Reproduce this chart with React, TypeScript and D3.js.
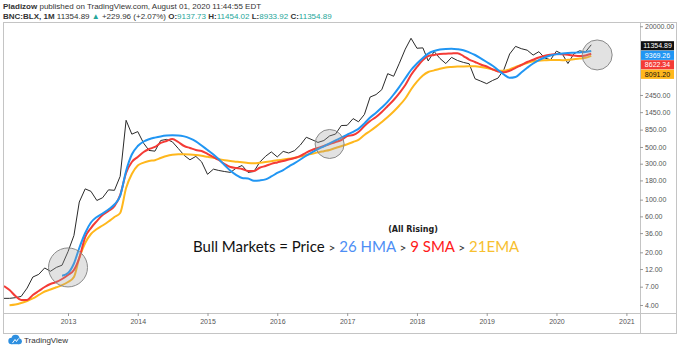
import React, { useEffect, useRef } from "react";
import * as d3 from "d3";

// monthly closes, BNC:BLX, starting Jan 2012
const START = new Date(2012, 0, 1);
const price = [
  5.5, 4.9, 4.9, 5.0, 5.2, 6.7, 9.4, 10.2, 12.4, 11.2, 12.6, 13.5,
  20.4, 33.4, 93, 139, 129, 97.5, 106, 135, 133, 204, 1130, 740,
  800, 560, 450, 440, 610, 630, 586, 478, 387, 338, 375, 318,
  217, 254, 244, 236, 230, 263, 284, 230, 236, 314, 377, 430,
  369, 437, 416, 448, 531, 673, 624, 575, 609, 701, 742, 963,
  970, 1190, 1080, 1350, 2300, 2480, 2880, 4700, 4340, 6470, 9950, 13860,
  10220, 10330, 6930, 9240, 7490, 6400, 7730, 7030, 6630, 6370, 4020, 3740,
  3460, 3820, 4100, 5320, 8570, 10820, 10090, 9630, 8290, 9200, 7570, 7190,
  9350, 8540, 6410, 8620, 9450, 9140, 11354.89,
];

// 9 SMA, from Feb 2012
const smaStart = 1;
const sma9 = [
  7.15, 6.32, 5.26, 4.66, 4.66, 5.43, 6.13, 6.93, 7.6, 8.07, 8.85, 10.0,
  11.65, 16.8, 31.9, 42, 52, 62.6, 70.7, 82, 115, 226, 316, 368,
  429, 470, 500, 565, 600, 638, 582, 515, 485, 456, 442, 404,
  368, 336, 297, 271, 263, 255, 240, 240, 265, 280, 298, 312,
  326, 341, 357, 380, 422, 456, 485, 515, 548, 582, 619, 700,
  721, 790, 949, 1106, 1250, 1456, 1750, 2100, 2600, 3320, 4510, 5760,
  7130, 8060, 8310, 8570, 8640, 8720, 8790, 8060, 7240, 6710, 6220, 5850,
  5370, 5020, 4900, 5140, 5620, 6120, 6710, 7200, 7700, 8140, 8390, 8570,
  8490, 8370, 8190, 8060, 8190, 8622.34,
];

// 21 EMA, from Mar 2012
const emaStart = 2;
const ema21 = [
  3.97, 4.06, 4.25, 4.52, 4.89, 5.43, 6.04, 6.42, 6.87, 7.32, 8.07, 9.41,
  16.8, 26.6, 35.0, 40.8, 45.4, 51.3, 58.9, 66.5,
  143, 219, 284, 310, 326, 334, 357, 380, 394, 400, 400, 397,
  391, 382, 370, 359, 346, 333, 325, 319, 313, 306, 304, 309,
  316, 324, 333, 340, 348, 360, 374, 391, 406, 424, 440, 456,
  485, 512, 543, 582, 623, 721, 815, 932, 1073, 1250, 1478, 1776,
  2199, 2895, 3675, 4441, 4943, 5191, 5452, 5672, 5760, 5831, 5867, 5880,
  5880, 5760, 5586, 5352, 5128, 5128, 5352, 5760, 6123, 6508, 6855, 6982,
  7068, 7134, 7134, 7100, 7177, 7310, 7445, 7630, 8091.2,
];

// 26 HMA, from Dec 2012
const hmaStart = 11;
const hma26 = [
  9.79, 10.6, 14.2, 22.8, 36.1, 49.7, 58.9, 65.5, 74.0, 86.2, 112, 240,
  397, 515, 591, 634, 666, 691, 708, 714, 712, 691, 650, 595,
  523, 456, 398, 343, 286, 242, 212, 194, 191, 178, 180, 186,
  203, 226, 247, 275, 306, 341, 384, 425, 467, 511, 558, 610,
  666, 728, 795, 871, 1025, 1231, 1421, 1671, 1995, 2486, 3145, 4078,
  5255, 6410, 7583, 8676, 9391, 9802, 10012, 10074, 9921, 9623, 9024, 8309,
  7514, 6709, 5975, 5255, 4578, 4140, 4243, 4869, 5620, 6410, 7090, 7700,
  8185, 8490, 8700, 8836, 8916, 8998, 9109, 9369.26,
];

const priceTicks = [4, 7, 12, 20, 36, 60, 100, 180, 300, 500, 850, 1450, 2450, 20000];
const yearTicks = [2013, 2014, 2015, 2016, 2017, 2018, 2019, 2020, 2021];

// highlighted spots (month index, price, radius in px)
const circles = [
  { month: 12, value: 12.6, r: 19.5 },
  { month: 57, value: 548, r: 14.5 },
  { month: 103, value: 8320, r: 15 },
];

const BLUE = "#2196f3", RED = "#f43b36", ORANGE = "#ffb71c";
const FONT = "'Liberation Sans', Arial, sans-serif";

const monthDate = (i) => d3.timeMonth.offset(START, i);
const toPts = (vals, start) => vals.map((v, i) => ({ d: monthDate(start + i), v }));

const App = () => {
  const svgRef = useRef();

  useEffect(() => {
    document.body.style.margin = "0";
    const width = 680, height = 350;
    const plot = { left: 4, top: 22, right: 640, bottom: 313 };
    const svg = d3.select(svgRef.current)
      .attr("width", width)
      .attr("height", height)
      .style("display", "block")
      .style("background", "#fff");
    svg.selectAll("*").remove();

    const x = d3.scaleTime()
      .domain([new Date(2013, 0, 1), new Date(2021, 0, 1)])
      .range([68, 626.4]);
    const y = d3.scaleLog().domain([10, 10000]).range([275, 48.95]);

    // header
    const head = svg.append("g").style("font-family", FONT)
      .style("font-size", "8px").attr("fill", "#333");
    const h1 = head.append("text").attr("x", 3).attr("y", 9);
    h1.append("tspan").attr("font-weight", "bold").text("Pladizow");
    h1.append("tspan").text(" published on TradingView.com, August 01, 2020 11:44:55 EDT");
    const h2 = head.append("text").attr("x", 3).attr("y", 19);
    const teal = "#26a69a";
    [
      ["BNC:BLX, 1M", "bold", "#333"], ["  11354.89 ", null, "#333"], ["▲", null, teal],
      [" +229.96 (+2.07%) ", null, "#333"],
      ["O:", "bold", "#333"], ["9137.73", null, teal],
      [" H:", "bold", "#333"], ["11454.02", null, teal],
      [" L:", "bold", "#333"], ["8933.92", null, teal],
      [" C:", "bold", "#333"], ["11354.89", null, teal],
    ].forEach(([t, w, c]) => {
      h2.append("tspan").attr("font-weight", w || "normal").attr("fill", c).text(t);
    });

    // frame
    svg.append("rect")
      .attr("x", 3.5).attr("y", 22.5).attr("width", 673).attr("height", 311)
      .attr("fill", "none").attr("stroke", "#c4c4c4");
    svg.append("line").attr("x1", plot.right + 0.5).attr("x2", plot.right + 0.5)
      .attr("y1", 22.5).attr("y2", 333.5).attr("stroke", "#c4c4c4");
    svg.append("line").attr("x1", 3.5).attr("x2", 676.5)
      .attr("y1", plot.bottom + 0.5).attr("y2", plot.bottom + 0.5).attr("stroke", "#c4c4c4");

    svg.append("clipPath").attr("id", "plotClip")
      .append("rect")
      .attr("x", plot.left).attr("y", plot.top)
      .attr("width", plot.right - plot.left).attr("height", plot.bottom - plot.top);

    const g = svg.append("g").attr("clip-path", "url(#plotClip)");

    const line = d3.line().x(p => x(p.d)).y(p => y(p.v));
    const smooth = d3.line().x(p => x(p.d)).y(p => y(p.v)).curve(d3.curveMonotoneX);

    g.append("path").datum(toPts(price, 0))
      .attr("d", line).attr("fill", "none").attr("stroke", "#2a2a2a").attr("stroke-width", 1);
    g.append("path").datum(toPts(ema21, emaStart))
      .attr("d", smooth).attr("fill", "none").attr("stroke", ORANGE).attr("stroke-width", 2);
    g.append("path").datum(toPts(sma9, smaStart))
      .attr("d", smooth).attr("fill", "none").attr("stroke", RED).attr("stroke-width", 2);
    g.append("path").datum(toPts(hma26, hmaStart))
      .attr("d", smooth).attr("fill", "none").attr("stroke", BLUE).attr("stroke-width", 2);

    g.selectAll("circle.mark").data(circles).enter().append("circle")
      .attr("class", "mark")
      .attr("cx", c => x(monthDate(c.month)))
      .attr("cy", c => y(c.value))
      .attr("r", c => c.r)
      .attr("fill", "#9e9e9e").attr("fill-opacity", 0.3)
      .attr("stroke", "#8a8a8a").attr("stroke-width", 1);

    // price axis
    const yAxis = svg.append("g")
      .attr("transform", `translate(${plot.right},0)`)
      .call(d3.axisRight(y).tickValues(priceTicks).tickFormat(d3.format(".2f")).tickSize(3).tickPadding(2));
    yAxis.select(".domain").remove();
    yAxis.selectAll("line").attr("stroke", "#999");
    yAxis.selectAll("text").attr("fill", "#555")
      .style("font-size", "7px").style("font-family", FONT);

    // time axis
    const xAxis = svg.append("g")
      .attr("transform", `translate(0,${plot.bottom})`)
      .call(d3.axisBottom(x).tickValues(yearTicks.map(yr => new Date(yr, 0, 1)))
        .tickFormat(d3.timeFormat("%Y")).tickSize(3).tickPadding(3));
    xAxis.select(".domain").remove();
    xAxis.selectAll("line").attr("stroke", "#999");
    xAxis.selectAll("text").attr("fill", "#555")
      .style("font-size", "7px").style("font-family", FONT);

    // last value labels, stacked so they do not overlap
    const labels = [
      { v: price[price.length - 1], bg: "#111", fg: "#fff" },
      { v: hma26[hma26.length - 1], bg: BLUE, fg: "#fff" },
      { v: sma9[sma9.length - 1], bg: RED, fg: "#fff" },
      { v: ema21[ema21.length - 1], bg: ORANGE, fg: "#111" },
    ].sort((a, b) => y(a.v) - y(b.v));
    let prev = -Infinity;
    labels.forEach(l => {
      l.cy = Math.max(y(l.v) + 1, prev + 9.5);
      prev = l.cy;
    });
    const lab = svg.append("g").selectAll("g").data(labels).enter().append("g")
      .attr("transform", l => `translate(${plot.right + 1},${l.cy})`);
    lab.append("rect").attr("x", 0).attr("y", -4.6).attr("width", 33).attr("height", 9.2)
      .attr("fill", l => l.bg);
    lab.append("text").attr("x", 16.5).attr("y", 2.5).attr("text-anchor", "middle")
      .attr("fill", l => l.fg).style("font-size", "7px")
      .style("font-family", FONT)
      .text(l => d3.format(".2f")(l.v));

    // annotation
    svg.append("text")
      .attr("x", 413).attr("y", 232).attr("text-anchor", "middle")
      .style("font-family", "'DejaVu Sans', sans-serif").style("font-size", "8px")
      .attr("font-weight", "bold").attr("fill", "#222")
      .text("(All Rising)");
    const ann = svg.append("text").attr("x", 193).attr("y", 252)
      .style("font-family", "Lato, sans-serif");
    [
      ["Bull Markets = Price ", "#111", 15], [">", "#333", 12], [" 26 HMA ", "#4d8ef5", 15],
      [">", "#333", 12], [" 9 SMA ", "#ff1a1a", 15], [">", "#333", 12], [" 21EMA", "#f7c02f", 15],
    ].forEach(([t, c, s]) => {
      ann.append("tspan").attr("fill", c).style("font-size", `${s}px`).text(t);
    });

    // footer logo
    const logo = svg.append("g");
    logo.append("circle").attr("cx", 11.5).attr("cy", 341).attr("r", 3.2).attr("fill", "#2e8fe0");
    logo.append("circle").attr("cx", 15.5).attr("cy", 338.8).attr("r", 4).attr("fill", "#2e8fe0");
    logo.append("circle").attr("cx", 19).attr("cy", 341.3).attr("r", 2.9).attr("fill", "#2e8fe0");
    logo.append("rect").attr("x", 11.5).attr("y", 340).attr("width", 7.5).attr("height", 4.2).attr("fill", "#2e8fe0");
    logo.append("path").attr("d", "M12.5 343 L15 339.5 L16.5 341.5 L18.5 338.5").attr("fill", "none")
      .attr("stroke", "#fff").attr("stroke-width", 1);
    logo.append("text").attr("x", 24).attr("y", 343)
      .style("font-family", FONT).style("font-size", "8px")
      .attr("fill", "#333").text("TradingView");
  }, []);

  return (
    <div style={{ position: "relative" }}>
      <svg ref={svgRef}></svg>
    </div>
  );
};

export default App;
